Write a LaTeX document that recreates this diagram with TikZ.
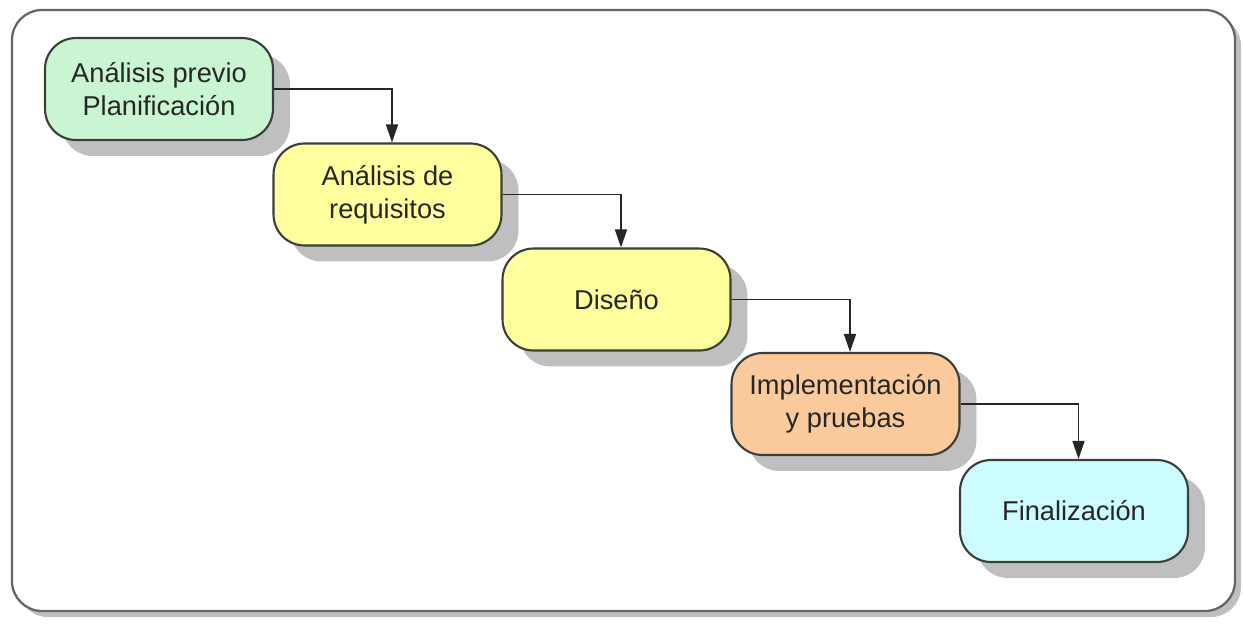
\documentclass[tikz,border=0pt]{standalone}
\usepackage{fontspec}
\setmainfont{Liberation Sans}
\usetikzlibrary{arrows.meta,shadows}

\definecolor{fasegreen}{HTML}{C9F5D2}
\definecolor{faseyellow}{HTML}{FFFF9E}
\definecolor{faseorange}{HTML}{FACA9C}
\definecolor{fasecyan}{HTML}{CCFCFF}
\definecolor{fasedraw}{HTML}{3A3F3A}

\tikzset{
  fase/.style={draw=fasedraw, line width=1.2pt, rounded corners=0.62cm,
    minimum width=4.56cm, minimum height=2.04cm, align=center,
    font=\fontsize{15.5}{19}\selectfont, text=black!85,
    drop shadow={shadow xshift=0.34cm, shadow yshift=-0.32cm, fill=black!25, opacity=1}},
  paso/.style={draw=black!85, line width=0.9pt, -{Triangle[length=0.36cm,width=0.24cm]}}
}

\begin{document}
\begin{tikzpicture}[x=0.02cm,y=-0.02cm]
    \useasboundingbox (0,0) rectangle (1243,626);
    % marco
    \draw[draw=black!60, line width=1.3pt, rounded corners=0.6cm, fill=white,
      drop shadow={shadow xshift=0.12cm, shadow yshift=-0.12cm, fill=black!25, opacity=1}]
      (12,10) rectangle (1235,611);
    % fases
    \node[fase, fill=fasegreen] (previo) at (159,89) {Análisis previo\\Planificación};
    \node[fase, fill=faseyellow] (requisitos) at (387.5,194.5) {Análisis de\\requisitos};
    \node[fase, fill=faseyellow] (diseno) at (616.5,299.5) {Diseño};
    \node[fase, fill=faseorange] (implementacion) at (845.5,404) {Implementación\\y pruebas};
    \node[fase, fill=fasecyan] (final) at (1074,511) {Finalización};
    % flechas
    \draw[paso] (previo.east) -| ([xshift=0.09cm]requisitos.north);
    \draw[paso] (requisitos.east) -| ([xshift=0.09cm]diseno.north);
    \draw[paso] (diseno.east) -| ([xshift=0.09cm]implementacion.north);
    \draw[paso] (implementacion.east) -| ([xshift=0.09cm]final.north);
  \end{tikzpicture}
\end{document}
